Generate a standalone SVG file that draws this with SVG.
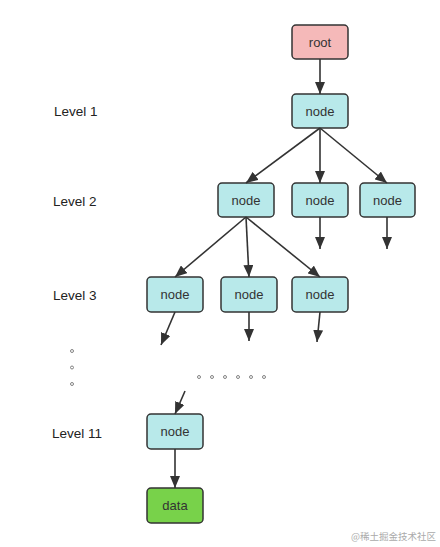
<svg xmlns="http://www.w3.org/2000/svg" width="440" height="547" viewBox="0 0 440 547">
<defs>
<style>
.box{stroke:#333;stroke-width:1.5}
.n{fill:#b8e9ea}
.r{fill:#f5b9b9}
.d{fill:#78d24a}
.t{font-family:"Liberation Sans",Arial,sans-serif;font-size:13px;fill:#333;text-anchor:middle}
.lv{font-family:"Liberation Sans",Arial,sans-serif;font-size:13.5px;fill:#222}
.c line{stroke:#333;stroke-width:1.6;marker-end:url(#ah)}
.dot{fill:none;stroke:#666;stroke-width:0.8}
</style>
<marker id="ah" viewBox="0 0 12 10" refX="12" refY="5" markerWidth="12" markerHeight="10" markerUnits="userSpaceOnUse" orient="auto">
<path d="M0,0 L12,5 L0,10 z" fill="#333"/>
</marker>
</defs>
<rect width="440" height="547" fill="#fff"/>
<g id="labels">
<text class="lv" x="54" y="116">Level 1</text>
<text class="lv" x="53" y="206">Level 2</text>
<text class="lv" x="53" y="300">Level 3</text>
<text class="lv" x="52" y="438">Level 11</text>
</g>
<g id="root"><rect class="box r" x="292" y="25" width="56" height="34" rx="4"/><text class="t" x="320" y="46.5">root</text></g>
<g id="l1"><rect class="box n" x="292" y="94" width="56" height="34" rx="4"/><text class="t" x="320" y="115.5">node</text></g>
<g id="l2a"><rect class="box n" x="218" y="183" width="56" height="34" rx="4"/><text class="t" x="246" y="204.5">node</text></g>
<g id="l2b"><rect class="box n" x="292" y="183" width="56" height="34" rx="4"/><text class="t" x="320" y="204.5">node</text></g>
<g id="l2c"><rect class="box n" x="360" y="183" width="55" height="34" rx="4"/><text class="t" x="387.5" y="204.5">node</text></g>
<g id="l3a"><rect class="box n" x="147" y="277" width="56" height="35" rx="4"/><text class="t" x="175" y="299">node</text></g>
<g id="l3b"><rect class="box n" x="221" y="277" width="56" height="35" rx="4"/><text class="t" x="249" y="299">node</text></g>
<g id="l3c"><rect class="box n" x="292" y="277" width="56" height="35" rx="4"/><text class="t" x="320" y="299">node</text></g>
<g id="l11"><rect class="box n" x="147" y="414" width="56" height="35" rx="4"/><text class="t" x="175" y="436">node</text></g>
<g id="data"><rect class="box d" x="147" y="488" width="56" height="35" rx="4"/><text class="t" x="175" y="510">data</text></g>
<g id="connectors" class="c">
<line x1="320" y1="59" x2="320" y2="94"/>
<line x1="320" y1="128" x2="246" y2="183"/>
<line x1="320" y1="128" x2="320" y2="183"/>
<line x1="320" y1="128" x2="387" y2="183"/>
<line x1="320" y1="217" x2="320" y2="249"/>
<line x1="387" y1="217" x2="387" y2="249"/>
<line x1="246" y1="217" x2="175" y2="277"/>
<line x1="246" y1="217" x2="249" y2="277"/>
<line x1="246" y1="217" x2="320" y2="277"/>
<line x1="175" y1="312" x2="161" y2="345"/>
<line x1="249" y1="312" x2="249" y2="341"/>
<line x1="320" y1="312" x2="317" y2="342"/>
<line x1="185" y1="391" x2="175" y2="414"/>
<line x1="175" y1="449" x2="175" y2="488"/>
</g>
<g id="dots">
<circle class="dot" cx="72" cy="351" r="1.5"/>
<circle class="dot" cx="72" cy="367.5" r="1.5"/>
<circle class="dot" cx="72" cy="384" r="1.5"/>
<circle class="dot" cx="199" cy="377" r="1.5"/>
<circle class="dot" cx="212" cy="377" r="1.5"/>
<circle class="dot" cx="225" cy="377" r="1.5"/>
<circle class="dot" cx="238" cy="377" r="1.5"/>
<circle class="dot" cx="251" cy="377" r="1.5"/>
<circle class="dot" cx="264" cy="377" r="1.5"/>
</g>
<text x="436" y="540" text-anchor="end" font-family="'Noto Sans CJK SC',sans-serif" font-size="9.5" fill="#aaa">@稀土掘金技术社区</text>
</svg>
